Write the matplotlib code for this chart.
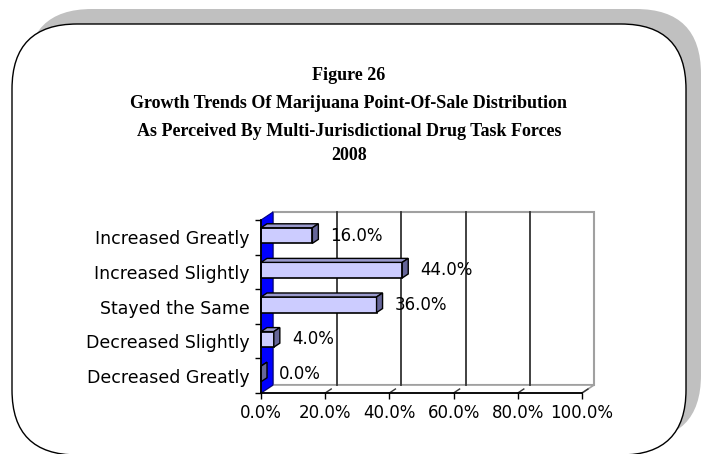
import matplotlib
matplotlib.use("Agg")
import matplotlib.pyplot as plt
from matplotlib.patches import FancyBboxPatch, Polygon, Rectangle

# ---- data ----
categories = ["Increased Greatly", "Increased Slightly", "Stayed the Same",
              "Decreased Slightly", "Decreased Greatly"]
values = [16.0, 44.0, 36.0, 4.0, 0.0]
xticks = [0, 20, 40, 60, 80, 100]
xtick_labels = ["0.0%", "20.0%", "40.0%", "60.0%", "80.0%", "100.0%"]
title_lines = ["Figure 26",
               "Growth Trends Of Marijuana Point-Of-Sale Distribution",
               "As Perceived By Multi-Jurisdictional Drug Task Forces",
               "2008"]

W, H = 707, 454
fig = plt.figure(figsize=(W / 100, H / 100), dpi=100)

# ---- background rounded box with shadow ----
bg = fig.add_axes([0, 0, 1, 1])
bg.set_xlim(0, W)
bg.set_ylim(H, 0)
bg.axis("off")
R = 65
bg.add_patch(FancyBboxPatch((27, 9), 674, 431,
                            boxstyle=f"round,pad=0,rounding_size={R}",
                            fc="#C0C0C0", ec="none"))
bg.add_patch(FancyBboxPatch((12, 24), 674, 431,
                            boxstyle=f"round,pad=0,rounding_size={R}",
                            fc="white", ec="black", lw=1.0))

title_y = [76, 103, 131, 156]
for line, ty in zip(title_lines, title_y):
    bg.text(349, ty, line, ha="center", va="center",
            family="Liberation Serif", weight="bold", fontsize=13)

# ---- chart axes (front plane) ----
L, Rt, T, B = 261, 582, 220, 393
ax = fig.add_axes([L / W, 1 - B / H, (Rt - L) / W, (B - T) / H])
ax.set_xlim(0, 100)
ax.set_ylim(-0.5, len(categories) - 0.5)
ax.patch.set_visible(False)
for s in ["top", "right"]:
    ax.spines[s].set_visible(False)
for s in ["left", "bottom"]:
    ax.spines[s].set_color("black")
    ax.spines[s].set_linewidth(1.3)
    ax.spines[s].set_zorder(5)

px_x = 100 / (Rt - L)
px_y = len(categories) / (B - T)
DX, DY = 12 * px_x, 8 * px_y          # plot depth
bdx, bdy = 6 * px_x, 4 * px_y         # bar depth
y0, y1 = -0.5, len(categories) - 0.5

# back wall
ax.add_patch(Rectangle((DX, y0 + DY), 100, y1 - y0, fc="white",
                       ec="#A0A0A0", lw=1.5, clip_on=False, zorder=0))
# floor
ax.add_patch(Polygon([(0, y0), (100, y0), (100 + DX, y0 + DY), (DX, y0 + DY)],
                     closed=True, fc="white", ec="#A0A0A0", lw=1.2,
                     clip_on=False, zorder=0.5))
# gridlines on back wall and floor
for t in xticks[1:-1]:
    ax.plot([t + DX, t + DX], [y0 + DY, y1 + DY], color="#333333", lw=1.3,
            clip_on=False, zorder=1)
for t in xticks[1:]:
    ax.plot([t, t + DX * 0.5], [y0, y0 + DY * 0.5], color="#333333", lw=1.0,
            clip_on=False, zorder=1)
# left wall (blue)
ax.add_patch(Polygon([(0, y0), (0, y1), (DX, y1 + DY), (DX, y0 + DY)],
                     closed=True, fc="#0000FF", ec="#000080", lw=0.8,
                     clip_on=False, zorder=1))

# bars
ypos = list(range(len(categories) - 1, -1, -1))
bh = 0.45
yb = [p + 0.05 for p in ypos]
ax.barh(yb, values, height=bh, left=0, color="#CCCCFF",
        edgecolor="black", lw=1.2, zorder=3, clip_on=False)
for y, v in zip(yb, values):
    top = [(0, y + bh / 2), (v, y + bh / 2), (v + bdx, y + bh / 2 + bdy),
           (bdx, y + bh / 2 + bdy)]
    side = [(v, y - bh / 2), (v, y + bh / 2), (v + bdx, y + bh / 2 + bdy),
            (v + bdx, y - bh / 2 + bdy)]
    ax.add_patch(Polygon(top, closed=True, fc="#9999CC", ec="black", lw=1.0,
                         clip_on=False, zorder=3))
    ax.add_patch(Polygon(side, closed=True, fc="#666699", ec="black", lw=1.0,
                         clip_on=False, zorder=3))
    ax.annotate(f"{v:.1f}%", (v, y), xytext=(13, 0), textcoords="offset points",
                ha="left", va="center", fontsize=12, family="DejaVu Sans",
                zorder=6)

# ticks
ax.set_yticks(ypos)
ax.set_yticklabels(categories, family="DejaVu Sans", fontsize=12.5)
ax.tick_params(axis="y", which="major", length=0, pad=8)
ax.set_yticks([y0 + i for i in range(len(categories) + 1)], minor=True)
ax.tick_params(axis="y", which="minor", length=4.5, width=1.0, color="black",
               direction="out")
ax.set_xticks(xticks)
ax.set_xticklabels(xtick_labels, family="DejaVu Sans", fontsize=12)
ax.tick_params(axis="x", length=4, width=1.0, direction="out", pad=4)

fig.savefig("out.png", dpi=100)
